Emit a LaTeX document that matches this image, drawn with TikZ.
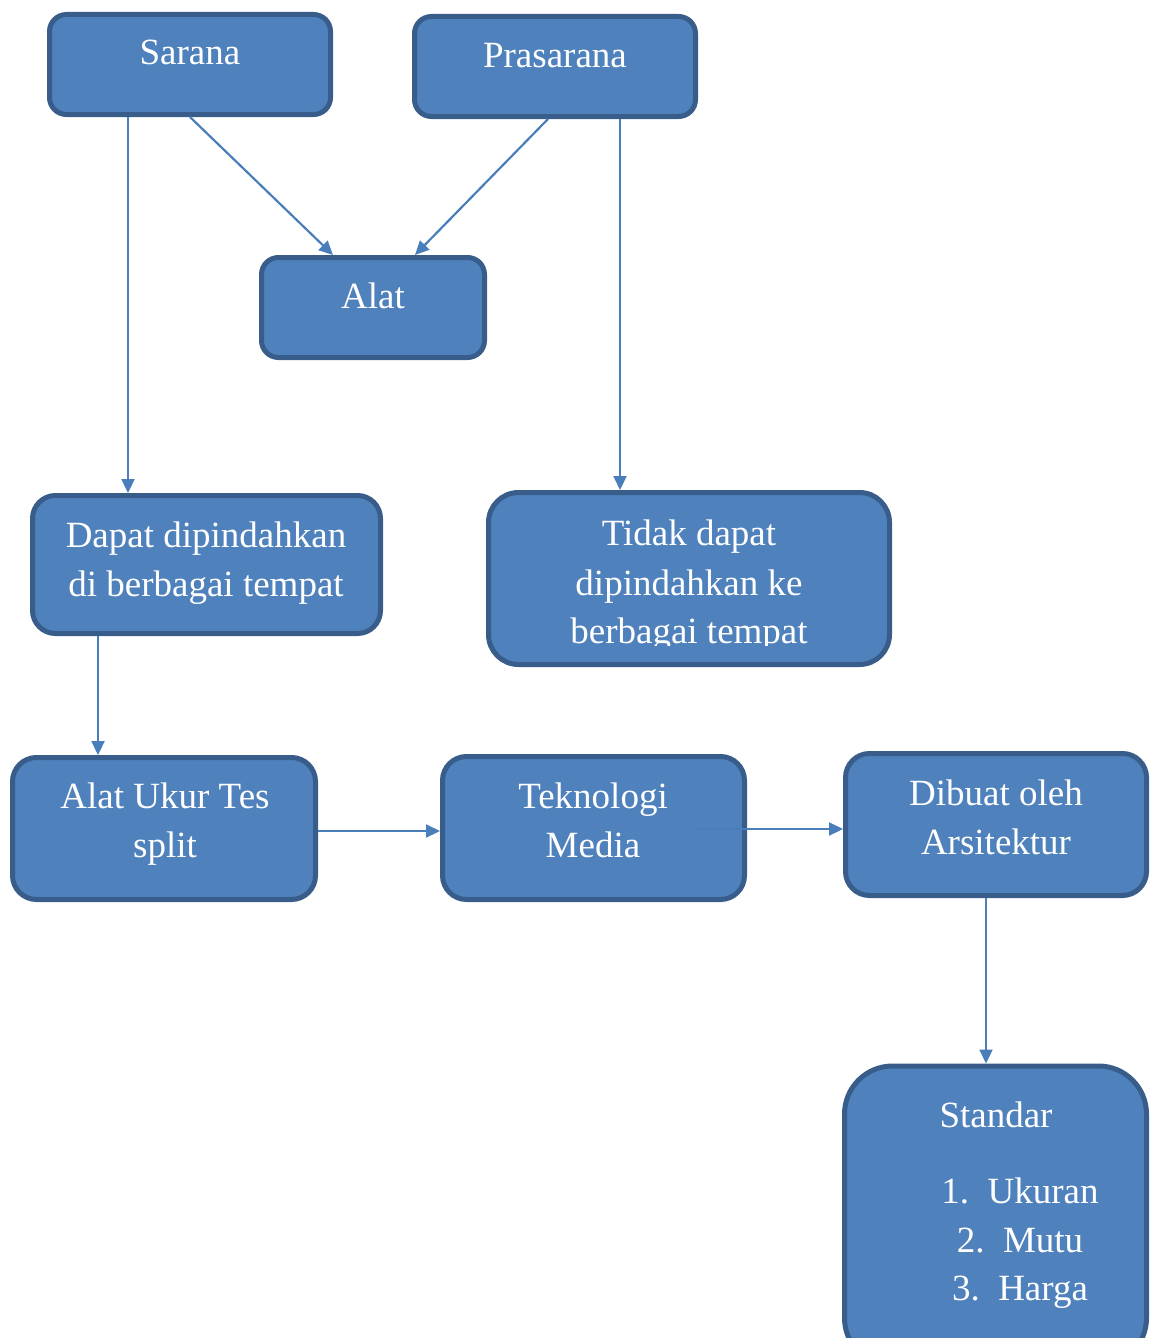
\documentclass[tikz,border=0pt]{standalone}
\usepackage{fontspec}
\setmainfont{Liberation Serif}
\usetikzlibrary{arrows.meta}
\definecolor{boxfill}{HTML}{4F81BD}
\definecolor{boxline}{HTML}{385D8A}
\definecolor{arrowc}{HTML}{4A7EBB}
\begin{document}
\begin{tikzpicture}[x=1pt,y=-1pt,
  box/.style={draw=boxline, line width=5pt, fill=boxfill, inner sep=0pt},
  txt/.style={text=white, font=\fontsize{37}{49}\selectfont, anchor=base, inner sep=0pt},
  conn/.style={draw=arrowc, line width=2.2pt, -{Triangle[length=14pt,width=13pt]}}]
\useasboundingbox (0,0) rectangle (1150,1338);
\clip (0,0) rectangle (1150,1338);

% boxes
\node[box, rounded corners=17pt, minimum width=281pt, minimum height=100pt] (sarana) at (190,64.5) {};
\node[box, rounded corners=17pt, minimum width=281pt, minimum height=100pt] (prasarana) at (555,66.5) {};
\node[box, rounded corners=17pt, minimum width=223pt, minimum height=100pt] (alat) at (373,307.5) {};
\node[box, rounded corners=23pt, minimum width=348pt, minimum height=138pt] (dapat) at (206.5,564.5) {};
\node[box, rounded corners=30pt, minimum width=401pt, minimum height=172pt] (tidak) at (689,578.5) {};
\node[box, rounded corners=24pt, minimum width=303pt, minimum height=142pt] (ukur) at (164,828.5) {};
\node[box, rounded corners=24pt, minimum width=302pt, minimum height=143pt] (tekno) at (593.5,828) {};
\node[box, rounded corners=24pt, minimum width=301pt, minimum height=142pt] (dibuat) at (996,824.5) {};
\node[box, rounded corners=48pt, minimum width=302pt, minimum height=300pt] (standar) at (995.5,1216) {};

% texts
\node[txt] (tsarana) at (190,65) {Sarana};
\node[txt] (tprasarana) at (555,67) {Prasarana};
\node[txt] (talat) at (373,308) {Alat};
\node[txt] (tdapat1) at (206,547) {Dapat dipindahkan};
\node[txt] (tdapat2) at (206,596) {di berbagai tempat};
\node[txt] (ttidak1) at (689,545) {Tidak dapat};
\node[txt] (ttidak2) at (689,595) {dipindahkan ke};
\begin{scope}
  \clip (486,490) rectangle (892,645);
  \node[txt] (ttidak3) at (689,643) {berbagai tempat};
\end{scope}
\node[txt] (tukur1) at (165,808) {Alat Ukur Tes};
\node[txt] (tukur2) at (165,857) {split};
\node[txt] (ttekno1) at (593,808) {Teknologi};
\node[txt] (ttekno2) at (593,857) {Media};
\node[txt] (tdibuat1) at (996,805) {Dibuat oleh};
\node[txt] (tdibuat2) at (996,854) {Arsitektur};
\node[txt] (tstandar) at (996,1127) {Standar};
\node[txt] (tlist1) at (1020,1203) {1.\ \ Ukuran};
\node[txt] (tlist2) at (1020,1252) {2.\ \ Mutu};
\node[txt] (tlist3) at (1020,1300) {3.\ \ Harga};

% connectors
\draw[conn] ([xshift=-62pt]sarana.south) -- ([xshift=-78.5pt]dapat.north);
\draw[conn] (sarana.south) -- ([xshift=-40pt]alat.north);
\draw[conn] ([xshift=-7pt]prasarana.south) -- ([xshift=42pt]alat.north);
\draw[conn] ([xshift=65pt]prasarana.south) -- ([xshift=-69pt]tidak.north);
\draw[conn] ([xshift=-108.5pt]dapat.south) -- ([xshift=-66pt]ukur.north);
\draw[conn] ([yshift=-2.5pt]ukur.east) -- ([yshift=-2.5pt]ukur.east -| tekno.west);
\draw[conn] ([xshift=-50pt,yshift=-1pt]tekno.east) -- ([yshift=-1pt]tekno.east -| dibuat.west);
\draw[conn] ([xshift=-10pt]dibuat.south) -- ([xshift=-9.5pt]standar.north);
\end{tikzpicture}
\end{document}
